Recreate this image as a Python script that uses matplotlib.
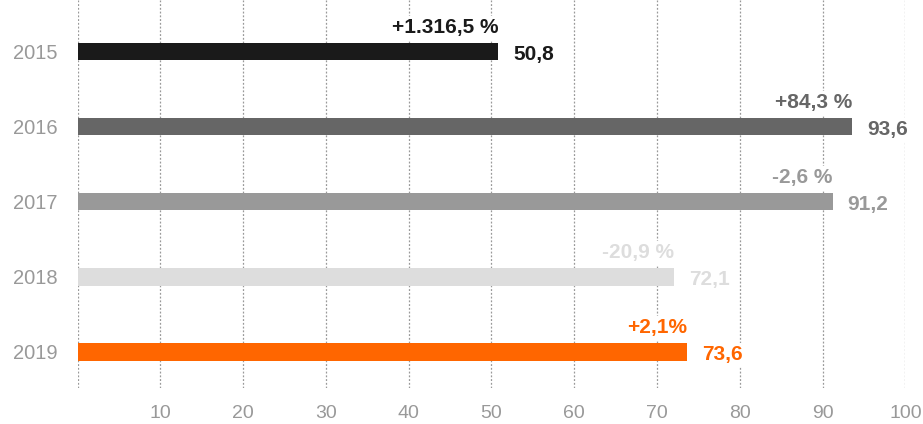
import numpy as np
import matplotlib.pyplot as plt

plt.rcParams['font.family'] = ['Liberation Sans', 'DejaVu Sans']

years = ['2015', '2016', '2017', '2018', '2019']
values = [50.8, 93.6, 91.2, 72.1, 73.6]
value_labels = ['50,8', '93,6', '91,2', '72,1', '73,6']
pct_labels = ['+1.316,5 %', '+84,3 %', '-2,6 %', '-20,9 %', '+2,1%']
colors = ['#1a1a1a', '#666666', '#999999', '#dddddd', '#ff6600']

fig = plt.figure(figsize=(9.23, 4.24), dpi=100)
ax = fig.add_axes([0.084, 0.085, 0.897, 0.915])

y = np.arange(len(years))
ax.barh(y, values, height=0.23, color=colors, zorder=2)

for i in range(len(years)):
    ax.annotate(value_labels[i], (values[i], y[i]), xytext=(15, -3),
                textcoords='offset pixels', ha='left', va='center',
                fontsize=15, fontweight='bold', color=colors[i], zorder=4,
                bbox=dict(fc='white', ec='none', pad=2))
    ax.annotate(pct_labels[i], (values[i], y[i]), xytext=(0, 24),
                textcoords='offset pixels', ha='right', va='center',
                fontsize=15, fontweight='bold', color=colors[i], zorder=4,
                bbox=dict(fc='white', ec='none', pad=2))

ax.set_xlim(0, 100)
ax.set_ylim(4.48, -0.69)
ax.set_xticks(range(0, 101, 10))
ax.set_xticklabels([''] + [str(v) for v in range(10, 101, 10)])
ax.set_yticks(y)
ax.set_yticklabels(years)
ax.tick_params(axis='x', length=0, pad=12, labelsize=14, labelcolor='#999999')
ax.tick_params(axis='y', length=0, pad=14.5, labelsize=14.5, labelcolor='#999999')
ax.grid(axis='x', color='#999999', linestyle=(0, (1.5, 1.5)), linewidth=0.9, zorder=0)
ax.set_axisbelow(True)
for s in ax.spines.values():
    s.set_visible(False)

plt.savefig('out.png', dpi=100)
